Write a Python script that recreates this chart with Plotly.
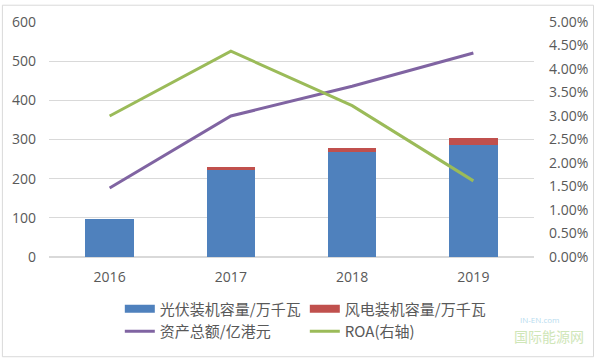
import plotly.graph_objects as go

years = ["2016", "2017", "2018", "2019"]
solar = [96, 222, 267, 287]
wind = [0, 7, 12, 17]
assets = [176, 360, 436, 521]
roa = [3.00, 4.38, 3.22, 1.62]

left_ticks = [0, 100, 200, 300, 400, 500, 600]
right_ticks = [0, 0.5, 1.0, 1.5, 2.0, 2.5, 3.0, 3.5, 4.0, 4.5, 5.0]
right_labels = [f"{v:.2f}%" for v in right_ticks]

BLUE = "#4f81bd"
RED = "#c0504d"
PURPLE = "#8064a2"
GREEN = "#9bbb59"
FONT = "Open Sans, Noto Sans CJK SC"
CJK = "Noto Sans CJK SC"

fig = go.Figure()
fig.add_trace(go.Bar(x=years, y=solar, marker=dict(color=BLUE, line=dict(width=0)),
                     name="光伏装机容量/万千瓦", showlegend=False, width=0.4))
fig.add_trace(go.Bar(x=years, y=wind, marker=dict(color=RED, line=dict(width=0)),
                     name="风电装机容量/万千瓦", showlegend=False, width=0.4))
fig.add_trace(go.Scatter(x=years, y=assets, mode="lines", line=dict(color=PURPLE, width=3),
                         name="资产总额/亿港元", showlegend=False))
fig.add_trace(go.Scatter(x=years, y=roa, mode="lines", line=dict(color=GREEN, width=3),
                         name="ROA(右轴)", yaxis="y2", showlegend=False))

# legend entries (swatches)
fig.add_trace(go.Scatter(x=[None], y=[None], mode="lines", line=dict(color=BLUE, width=8),
                         name="光伏装机容量/万千瓦"))
fig.add_trace(go.Scatter(x=[None], y=[None], mode="lines", line=dict(color=RED, width=8),
                         name="风电装机容量/万千瓦"))
fig.add_trace(go.Scatter(x=[None], y=[None], mode="lines", line=dict(color=PURPLE, width=3),
                         name="资产总额/亿港元"))
fig.add_trace(go.Scatter(x=[None], y=[None], mode="lines", line=dict(color=GREEN, width=3),
                         name="ROA(右轴)", yaxis="y2"))

fig.update_layout(
    width=600, height=360,
    barmode="stack",
    paper_bgcolor="white", plot_bgcolor="white",
    margin=dict(l=49, r=62, t=19, b=103),
    font=dict(family=FONT, size=14, color="#595959"),
    xaxis=dict(showgrid=False, showline=False, ticks="", tickfont=dict(size=14, color="#595959"),
               ticklabelstandoff=10),
    yaxis=dict(range=[0, 600], tickvals=left_ticks, showgrid=True, gridcolor="#d9d9d9",
               gridwidth=1, zeroline=True, zerolinecolor="#d9d9d9", showline=False,
               tickfont=dict(size=14, color="#595959"), ticklabelstandoff=12),
    yaxis2=dict(range=[0, 5], tickvals=right_ticks, ticktext=right_labels, overlaying="y",
                side="right", showgrid=False, zeroline=False,
                tickfont=dict(size=14, color="#595959"), ticklabelstandoff=14),
    legend=dict(orientation="h", x=0.146, xanchor="left", y=-0.385, yanchor="bottom",
                entrywidth=140, entrywidthmode="pixels", traceorder="normal",
                font=dict(family=CJK, size=15, color="#595959"),
                itemwidth=30),
    shapes=[dict(type="rect", xref="paper", yref="paper", x0=-47/489, x1=(489+60)/489,
                 y0=-101/238, y1=1+17/238, line=dict(color="#d9d9d9", width=1))],
    annotations=[dict(text="国际能源网", xref="paper", yref="paper", x=(590-49)/489,
                      y=-(337-257)/238, xanchor="right", yanchor="middle", showarrow=False,
                      font=dict(family=CJK, size=14, color="#cfe6b8")),
                 dict(text="IN-EN.com", xref="paper", yref="paper", x=(565-49)/489,
                      y=-(320-257)/238, xanchor="right", yanchor="middle", showarrow=False,
                      font=dict(family=FONT, size=8, color="#b8dcef"))],
)

fig.write_html("out.html", config={"displayModeBar": False},
               post_script="document.body.style.margin='0';document.body.style.overflow='hidden';")
